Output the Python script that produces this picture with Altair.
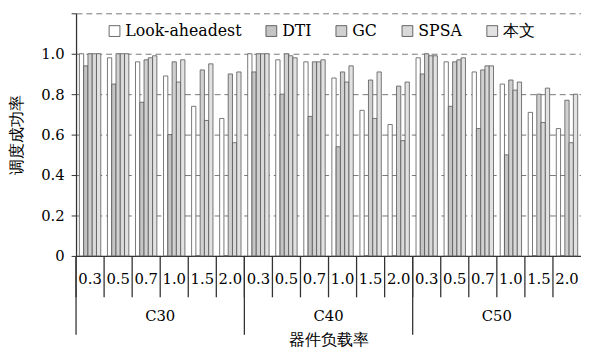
import altair as alt
import pandas as pd

groups = ["C30", "C40", "C50"]
loads = ["0.3", "0.5", "0.7", "1.0", "1.5", "2.0"]
methods = ["Look-aheadest", "DTI", "GC", "SPSA", "本文"]

look_ahead = [1.00, 0.98, 0.96, 0.89, 0.74, 0.68,
              1.00, 0.97, 0.96, 0.88, 0.72, 0.65,
              0.98, 0.96, 0.91, 0.85, 0.71, 0.63]
dti = [0.94, 0.85, 0.76, 0.60, 0.0, 0.0,
       0.91, 0.80, 0.69, 0.54, 0.0, 0.0,
       0.90, 0.74, 0.63, 0.50, 0.0, 0.0]
gc = [1.00, 1.00, 0.97, 0.96, 0.92, 0.90,
      1.00, 1.00, 0.96, 0.91, 0.87, 0.84,
      1.00, 0.96, 0.92, 0.87, 0.80, 0.77]
spsa = [1.00, 1.00, 0.98, 0.86, 0.67, 0.56,
        1.00, 0.99, 0.96, 0.86, 0.68, 0.57,
        0.99, 0.97, 0.94, 0.82, 0.66, 0.56]
ours = [1.00, 1.00, 0.99, 0.97, 0.95, 0.91,
        1.00, 0.98, 0.97, 0.94, 0.91, 0.86,
        0.99, 0.98, 0.94, 0.86, 0.83, 0.80]

series = {"Look-aheadest": look_ahead, "DTI": dti, "GC": gc, "SPSA": spsa, "本文": ours}
fills = ["#ffffff", "#c4c4c4", "#d0d0d0", "#d9d9d9", "#e2e2e2"]
y_ticks = [0, 0.2, 0.4, 0.6, 0.8, 1.0, 1.2]

keys = [f"{g}|{l}" for g in groups for l in loads]
rows = []
for gi, g in enumerate(groups):
    for li, l in enumerate(loads):
        for m in methods:
            rows.append({"key": f"{g}|{l}", "method": m, "value": series[m][gi * 6 + li]})
df = pd.DataFrame(rows)

W, H = 512, 246
FONT = "DejaVu Serif"
INK = "#333333"

x_enc = alt.X(
    "key:N", sort=keys,
    scale=alt.Scale(domain=keys, paddingInner=0, paddingOuter=0),
    axis=alt.Axis(
        title="器件负载率", labelExpr="split(datum.label, '|')[1]", labelAngle=0,
        ticks=False, domainColor=INK, domainWidth=1.3, labelPadding=16,
        labelFont=FONT, labelFontSize=15, labelColor="#000",
        titleFont=FONT, titleFontSize=16, titleFontWeight="normal",
        titleY=85, titleBaseline="middle", titleColor="#000",
    ),
)

bars = alt.Chart(df).mark_bar(stroke="#555555", strokeWidth=0.8).encode(
    x=x_enc,
    xOffset=alt.XOffset("method:N", sort=methods,
                        scale=alt.Scale(domain=methods, paddingOuter=0.78, paddingInner=0)),
    y=alt.Y(
        "value:Q",
        scale=alt.Scale(domain=[0, 1.2], nice=False, zero=True),
        axis=alt.Axis(
            values=y_ticks, title="调度成功率",
            labelExpr="datum.value == 0 ? '0' : (datum.value > 1.1 ? '' : format(datum.value, '.1f'))",
            grid=True, gridDash=[6, 4], gridColor="#777777", gridWidth=1,
            tickSize=5, tickColor=INK, domainColor=INK, domainWidth=1.3,
            labelPadding=7, labelFont=FONT, labelFontSize=15, labelColor="#000",
            titleFont=FONT, titleFontSize=16, titleFontWeight="normal",
            titleColor="#000", titlePadding=16,
        ),
    ),
    fill=alt.Fill(
        "method:N", sort=methods,
        scale=alt.Scale(domain=methods, range=fills),
        legend=alt.Legend(
            title=None, orient="none", legendX=31, legendY=10, direction="horizontal",
            symbolType="square", symbolSize=120, symbolStrokeColor="#444444",
            symbolStrokeWidth=0.8, symbolOpacity=1, labelFont=FONT, labelFontSize=16,
            labelColor="#000", columnPadding=22, labelOffset=3,
        ),
    ),
)

sep_df = pd.DataFrame({"key": keys})
short_rules = alt.Chart(sep_df).mark_rule(color=INK, strokeWidth=1.3).encode(
    x=alt.X("key:N", sort=keys, bandPosition=0),
    y=alt.value(H), y2=alt.value(H + 42),
)

grp_df = pd.DataFrame({"key": [f"{g}|{loads[0]}" for g in groups]})
long_rules = alt.Chart(grp_df).mark_rule(color=INK, strokeWidth=1.3).encode(
    x=alt.X("key:N", sort=keys, bandPosition=0),
    y=alt.value(H), y2=alt.value(H + 80),
)

lab_df = pd.DataFrame({"key": [f"{g}|{loads[3]}" for g in groups], "text": groups})
grp_text = alt.Chart(lab_df).mark_text(baseline="middle", font=FONT, fontSize=15, color="#000").encode(
    x=alt.X("key:N", sort=keys, bandPosition=0),
    y=alt.value(H + 61),
    text="text:N",
)

chart = alt.layer(bars, short_rules, long_rules, grp_text).properties(
    width=W, height=H, autosize="none",
    padding={"left": 69, "top": 3, "right": 0, "bottom": 92},
).configure(font=FONT).configure_view(stroke=None)

chart.save("out.html", embed_options={"renderer": "svg", "actions": False})
